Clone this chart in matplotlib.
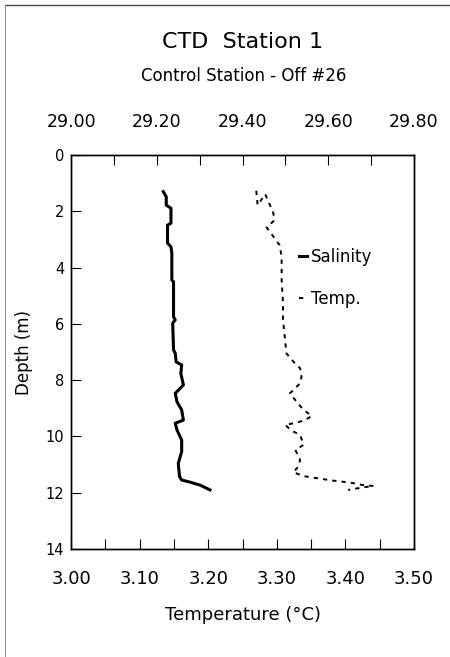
import numpy as np
import matplotlib
matplotlib.use("Agg")
import matplotlib.pyplot as plt
from matplotlib.lines import Line2D
from matplotlib.ticker import MultipleLocator, FormatStrFormatter

plt.rcParams['font.family'] = ['DejaVu Sans']

# salinity profile (top axis)
sal_depth = [1.30, 1.48, 1.78, 1.89, 2.42, 2.49, 3.13, 3.26, 3.48, 4.44, 4.50,
             5.75, 5.86, 5.97, 6.93, 7.04, 7.35, 7.46, 7.76, 8.17, 8.47, 8.77,
             9.06, 9.42, 9.53, 9.77, 10.13, 10.54, 10.96, 11.43, 11.55, 11.61,
             11.73, 11.90]
salinity = [29.215, 29.222, 29.222, 29.233, 29.233, 29.225, 29.225, 29.233,
            29.235, 29.235, 29.239, 29.239, 29.243, 29.237, 29.239, 29.243,
            29.245, 29.258, 29.256, 29.262, 29.243, 29.247, 29.258, 29.262,
            29.243, 29.247, 29.258, 29.258, 29.250, 29.253, 29.258, 29.274,
            29.301, 29.324]

# temperature profile (bottom axis)
temp_depth = [1.27, 1.78, 1.39, 1.72, 2.07, 2.33, 2.57, 2.90, 3.20, 3.61, 4.44,
              5.27, 5.86, 6.57, 7.05, 7.34, 7.58, 7.88, 8.11, 8.47, 8.77, 9.06,
              9.27, 9.42, 9.51, 9.59, 9.80, 9.95, 10.30, 10.48, 10.84, 11.08,
              11.27, 11.41, 11.49, 11.57, 11.64, 11.73, 11.76, 11.81, 11.90]
temperature = [3.270, 3.272, 3.283, 3.289, 3.295, 3.296, 3.285, 3.295, 3.304,
               3.307, 3.307, 3.309, 3.309, 3.312, 3.314, 3.324, 3.334, 3.336,
               3.334, 3.319, 3.329, 3.339, 3.351, 3.341, 3.329, 3.312, 3.322,
               3.334, 3.339, 3.327, 3.334, 3.331, 3.324, 3.339, 3.360, 3.382,
               3.407, 3.426, 3.441, 3.426, 3.404]

temp_style = (0, (2.2, 2.6))

fig = plt.figure(figsize=(4.5, 6.57), dpi=100)
ax = fig.add_axes([0.158, 0.1644, 0.762, 0.5996])
ax2 = ax.twiny()

ax.plot(temperature, temp_depth, color='k', lw=1.4, ls=temp_style,
        label='Temp.')
ax2.plot(salinity, sal_depth, color='k', lw=2.2, label='Salinity')

ax.set_xlim(3.0, 3.5)
ax2.set_xlim(29.0, 29.8)
ax.set_ylim(14, 0)

ax.xaxis.set_major_locator(MultipleLocator(0.1))
ax.xaxis.set_minor_locator(MultipleLocator(0.05))
ax.xaxis.set_major_formatter(FormatStrFormatter('%.2f'))
ax2.xaxis.set_major_locator(MultipleLocator(0.2))
ax2.xaxis.set_minor_locator(MultipleLocator(0.1))
ax2.xaxis.set_major_formatter(FormatStrFormatter('%.2f'))
ax.yaxis.set_major_locator(MultipleLocator(2))

ax.tick_params(axis='x', which='both', direction='in', length=7.5, width=0.8,
               labelsize=13, pad=15)
ax.tick_params(axis='y', which='both', direction='in', length=7, width=0.8,
               labelsize=10.5, pad=5, right=False)
ax2.tick_params(axis='x', which='both', direction='in', length=7.5, width=0.8,
                labelsize=12.5, pad=17)

for a in (ax, ax2):
    for s in a.spines.values():
        s.set_linewidth(1.0)

ax.set_xlabel('Temperature (°C)', fontsize=13, labelpad=13)
ax.set_ylabel('Depth (m)', fontsize=12, labelpad=9)

fig.text(0.538, 0.9365, 'CTD  Station 1', fontsize=16, ha='center', va='center')
fig.text(0.542, 0.8846, 'Control Station - Off #26', fontsize=12, ha='center',
         va='center')

h1 = Line2D([], [], color='k', lw=2.2)
h2 = Line2D([], [], color='k', lw=1.4, ls=temp_style)
ax.legend([h1, h2], ['Salinity', 'Temp.'], loc='upper left',
          bbox_to_anchor=(0.665, 0.765), frameon=False, fontsize=12,
          handlelength=0.5, handletextpad=0.2, labelspacing=1.46,
          borderaxespad=0, borderpad=0)

# scanned page frame
fig.add_artist(Line2D([0.011, 1.0], [0.9925, 0.9925], color='#444444', lw=1.0))
fig.add_artist(Line2D([0.011, 0.011], [0.0, 0.9925], color='#999999', lw=0.8))

fig.savefig('out.png', dpi=100)
